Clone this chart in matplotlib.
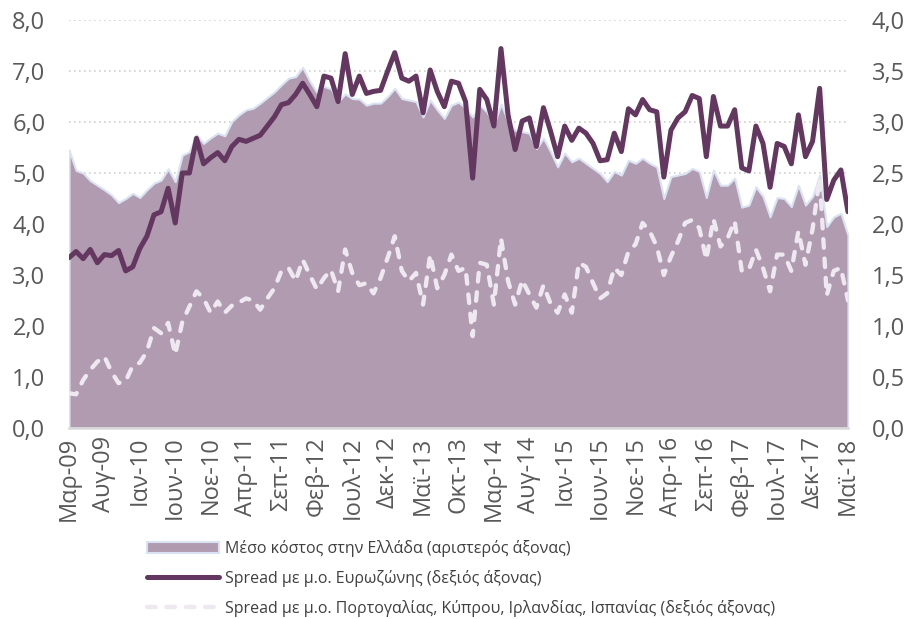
import matplotlib
matplotlib.use('Agg')
import matplotlib.pyplot as plt
from matplotlib.patches import Patch
from matplotlib.lines import Line2D
from matplotlib.ticker import FuncFormatter, MultipleLocator
import numpy as np

plt.rcParams['font.family'] = ['Open Sans', 'DejaVu Sans']

# μηνιαία στοιχεία Μαρ-09 .. Μαϊ-18 (111 μήνες)
tick_labels = ['Μαρ-09', 'Αυγ-09', 'Ιαν-10', 'Ιουν-10', 'Νοε-10', 'Απρ-11',
               'Σεπ-11', 'Φεβ-12', 'Ιουλ-12', 'Δεκ-12', 'Μαϊ-13', 'Οκτ-13',
               'Μαρ-14', 'Αυγ-14', 'Ιαν-15', 'Ιουν-15', 'Νοε-15', 'Απρ-16',
               'Σεπ-16', 'Φεβ-17', 'Ιουλ-17', 'Δεκ-17', 'Μαϊ-18']
tick_step = 5

# Μέσο κόστος στην Ελλάδα (αριστερός άξονας)
cost_gr = [5.45, 5.05, 5.00, 4.85, 4.76, 4.67, 4.57, 4.42, 4.50, 4.60,
           4.52, 4.67, 4.80, 4.86, 5.08, 4.83, 5.35, 5.42, 5.75, 5.58,
           5.69, 5.78, 5.73, 6.01, 6.14, 6.24, 6.27, 6.37, 6.48, 6.59,
           6.73, 6.86, 6.89, 7.07, 6.80, 6.58, 6.70, 6.65, 6.40, 6.55,
           6.46, 6.45, 6.33, 6.37, 6.37, 6.50, 6.66, 6.46, 6.43, 6.40,
           6.10, 6.43, 6.24, 6.07, 6.33, 6.39, 6.27, 6.10, 6.33, 6.20,
           5.95, 6.35, 6.01, 5.84, 5.81, 5.78, 5.48, 5.68, 5.42, 5.12,
           5.39, 5.22, 5.29, 5.19, 5.09, 4.99, 4.83, 5.03, 4.96, 5.25,
           5.19, 5.29, 5.19, 5.12, 4.50, 4.93, 4.96, 4.99, 5.09, 5.03,
           4.52, 5.06, 4.76, 4.76, 4.90, 4.33, 4.37, 4.73, 4.54, 4.14,
           4.52, 4.50, 4.34, 4.76, 4.37, 4.54, 4.96, 3.95, 4.14, 4.21,
           3.78]

# Spread με μ.ο. Ευρωζώνης (δεξιός άξονας)
spread_ez = [1.67, 1.73, 1.66, 1.75, 1.62, 1.70, 1.69, 1.74, 1.54, 1.58,
             1.76, 1.88, 2.09, 2.12, 2.35, 2.01, 2.50, 2.50, 2.84, 2.59,
             2.65, 2.70, 2.62, 2.76, 2.83, 2.81, 2.84, 2.87, 2.96, 3.05,
             3.17, 3.19, 3.27, 3.38, 3.27, 3.15, 3.45, 3.43, 3.20, 3.67,
             3.27, 3.45, 3.28, 3.30, 3.31, 3.50, 3.68, 3.43, 3.40, 3.45,
             3.09, 3.51, 3.30, 3.15, 3.40, 3.38, 3.20, 2.45, 3.32, 3.22,
             2.96, 3.72, 3.07, 2.73, 3.01, 3.04, 2.76, 3.14, 2.91, 2.66,
             2.96, 2.82, 2.94, 2.89, 2.79, 2.62, 2.63, 2.89, 2.71, 3.13,
             3.07, 3.22, 3.12, 3.10, 2.46, 2.92, 3.04, 3.10, 3.26, 3.23,
             2.66, 3.25, 2.96, 2.96, 3.12, 2.55, 2.52, 2.96, 2.79, 2.36,
             2.79, 2.76, 2.59, 3.07, 2.66, 2.81, 3.33, 2.24, 2.43, 2.53,
             2.12]

# Spread με μ.ο. Πορτογαλίας, Κύπρου, Ιρλανδίας, Ισπανίας (δεξιός άξονας)
spread_periph = [0.34, 0.33, 0.47, 0.57, 0.65, 0.70, 0.55, 0.44, 0.46, 0.61,
                 0.64, 0.75, 0.98, 0.93, 1.03, 0.72, 1.04, 1.19, 1.34, 1.27,
                 1.13, 1.24, 1.13, 1.20, 1.23, 1.27, 1.25, 1.16, 1.27, 1.37,
                 1.54, 1.57, 1.44, 1.65, 1.50, 1.36, 1.47, 1.55, 1.34, 1.75,
                 1.52, 1.40, 1.42, 1.32, 1.47, 1.67, 1.88, 1.54, 1.44, 1.52,
                 1.21, 1.70, 1.37, 1.50, 1.70, 1.54, 1.57, 0.90, 1.62, 1.60,
                 1.21, 1.86, 1.44, 1.21, 1.45, 1.31, 1.18, 1.40, 1.22, 1.13,
                 1.31, 1.13, 1.62, 1.58, 1.42, 1.27, 1.32, 1.57, 1.50, 1.73,
                 1.80, 2.01, 1.93, 1.78, 1.50, 1.68, 1.83, 2.01, 2.04, 1.96,
                 1.65, 2.05, 1.78, 1.86, 2.03, 1.54, 1.55, 1.75, 1.57, 1.34,
                 1.70, 1.70, 1.54, 1.93, 1.60, 1.95, 2.45, 1.30, 1.54, 1.57,
                 1.25]

labels = ['Μέσο κόστος στην Ελλάδα (αριστερός άξονας)',
          'Spread με μ.ο. Ευρωζώνης (δεξιός άξονας)',
          'Spread με μ.ο. Πορτογαλίας, Κύπρου, Ιρλανδίας, Ισπανίας (δεξιός άξονας)']

c_area = '#B19BB0'
c_edge = '#DAE3F3'
c_dark = '#633760'
c_dash = '#EEE8F0'
c_text = '#595959'

x = np.arange(len(cost_gr))
comma = FuncFormatter(lambda v, p: f'{v:.1f}'.replace('.', ','))

fig = plt.figure(figsize=(9.2, 6.19), dpi=100)
ax = fig.add_axes([0.075, 0.3086, 0.8467, 0.6591])
ax2 = ax.twinx()

ax.fill_between(x, cost_gr, 0, facecolor=c_area, edgecolor=c_edge, linewidth=1.5)
ax2.plot(x, spread_ez, color=c_dark, lw=3.6, solid_joinstyle='round', solid_capstyle='round')
ax2.plot(x, spread_periph, color=c_dash, lw=3.1, dashes=(2.0, 2.5),
         dash_capstyle='round', dash_joinstyle='round')

ax.set_xlim(0, len(x) - 1)
ax.set_ylim(0, 8)
ax2.set_ylim(0, 4)
ax.yaxis.set_major_locator(MultipleLocator(1))
ax2.yaxis.set_major_locator(MultipleLocator(0.5))
ax.yaxis.set_major_formatter(comma)
ax2.yaxis.set_major_formatter(comma)

ax.set_xticks(x[::tick_step])
ax.set_xticklabels(tick_labels, rotation=90, ha='center', va='top')

ax.set_axisbelow(True)
ax.grid(axis='y', color='#D0D0D0', linestyle=(0, (1, 2)), linewidth=1.2)

for a in (ax, ax2):
    for s in a.spines.values():
        s.set_visible(False)
    a.tick_params(length=0, labelsize=17, labelcolor=c_text)
ax.spines['bottom'].set_visible(True)
ax.spines['bottom'].set_color('#D9D9D9')
ax.spines['bottom'].set_linewidth(1.8)
ax.tick_params(axis='y', pad=17)
ax2.tick_params(axis='y', pad=17)
ax.tick_params(axis='x', pad=6)

handles = [Patch(facecolor=c_area, edgecolor=c_edge, linewidth=1.5),
           Line2D([], [], color=c_dark, lw=3.6, solid_capstyle='round'),
           Line2D([], [], color=c_dash, lw=3.1, dashes=(2.0, 2.5), dash_capstyle='round')]
fig.legend(handles, labels, loc='upper left', bbox_to_anchor=(147 / 920, 1 - 540 / 619),
           frameon=False, fontsize=11.5, labelcolor='#404040', handlelength=4.5,
           handleheight=0.7, handletextpad=0.4, labelspacing=0.8,
           borderpad=0, borderaxespad=0)

fig.savefig('out.png', dpi=100)
